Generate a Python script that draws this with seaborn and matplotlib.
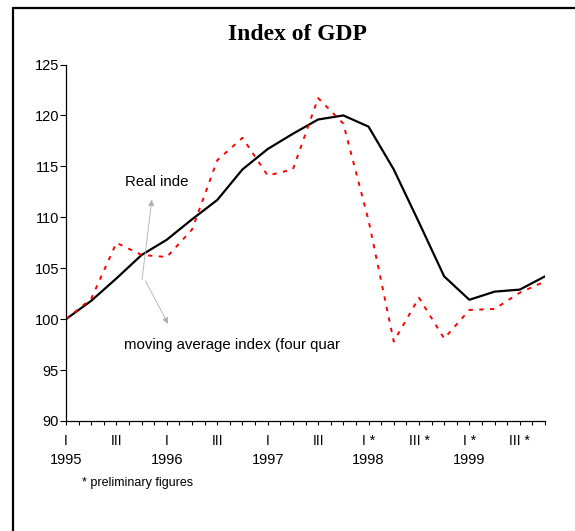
#!/usr/bin/env python3
# -*- coding: utf-8 -*-
"""
Index of GDP, quarterly 1995-1999
"""
import matplotlib
matplotlib.use('Agg')
import matplotlib.pyplot as plt
import seaborn as sns
import pandas as pd
import numpy as np

# quarters 1995 Q1 .. 1999 Q4
quarters = list(range(20))
quarter_labels = ['I', '', 'III', '',
                  'I', '', 'III', '',
                  'I', '', 'III', '',
                  'I *', '', 'III *', '',
                  'I *', '', 'III *', '']
years = ['1995', '1996', '1997', '1998', '1999']

moving_avg = [100.0, 101.8, 104.0, 106.3, 107.8, 109.8, 111.7, 114.7, 116.7, 118.2,
              119.6, 120.0, 118.9, 114.7, 109.5, 104.2, 101.9, 102.7, 102.9, 104.2]
real_index = [100.0, 102.0, 107.5, 106.3, 106.1, 108.8, 115.6, 117.8, 114.1, 114.7,
              121.7, 119.2, 109.7, 97.8, 102.1, 98.1, 100.9, 101.0, 102.6, 103.7]

df = pd.DataFrame({'q': quarters, 'moving': moving_avg, 'real': real_index})

sns.set_style("white")
plt.rcParams['font.family'] = ['Liberation Sans', 'DejaVu Sans']
plt.rcParams['text.color'] = 'black'
plt.rcParams['xtick.color'] = 'black'
plt.rcParams['ytick.color'] = 'black'

fig = plt.figure(figsize=(5.75, 5.31), dpi=100)
ax = fig.add_axes([66 / 575, 1 - 421 / 531, (545 - 66) / 575, (421 - 64.5) / 531])

sns.lineplot(data=df, x='q', y='moving', ax=ax, color='black', linewidth=1.6)
sns.lineplot(data=df, x='q', y='real', ax=ax, color='red', linewidth=1.4,
             linestyle=(0, (2.2, 3.3)))

ax.set_xlim(0, 19)
ax.set_ylim(90, 125)
ax.set_xlabel('')
ax.set_ylabel('')

# y axis
ax.set_yticks(np.arange(90, 126, 5))
ax.tick_params(axis='y', direction='out', length=4, width=0.8, labelsize=10.5,
               pad=1, left=True, colors='black')

# x axis: small ticks every half quarter, labels below
ax.set_xticks(np.arange(0, 19.01, 0.5))
ax.set_xticklabels([])
ax.tick_params(axis='x', direction='out', length=3, width=0.8, bottom=True)
for q, lab in zip(quarters, quarter_labels):
    if lab:
        ax.text(q, -0.055, lab, transform=ax.get_xaxis_transform(),
                ha='center', va='center', fontsize=10)
for i, yr in enumerate(years):
    ax.text(i * 4, -0.11, yr, transform=ax.get_xaxis_transform(),
            ha='center', va='center', fontsize=10.5)

for side in ['top', 'right']:
    ax.spines[side].set_visible(False)
for side in ['left', 'bottom']:
    ax.spines[side].set_color('black')
    ax.spines[side].set_linewidth(0.9)

# annotations
ax.annotate('', xy=(3.42, 112.0), xytext=(3.0, 103.6),
            arrowprops=dict(arrowstyle='-|>', color='#b0b0b0', lw=0.6,
                            mutation_scale=9))
ax.annotate('', xy=(4.1, 99.3), xytext=(3.1, 104.0),
            arrowprops=dict(arrowstyle='-|>', color='#b0b0b0', lw=0.6,
                            mutation_scale=9))
ax.text(2.35, 113.5, 'Real inde', ha='left', va='center', fontsize=10.8)
ax.text(2.3, 97.45, 'moving average index (four quar', ha='left', va='center',
        fontsize=10.8)

fig.text(297 / 575, 1 - 35 / 531, 'Index of GDP', ha='center', va='center',
         fontsize=17, fontweight='bold', family=['Liberation Serif', 'DejaVu Serif'])
fig.text(82 / 575, 1 - 483 / 531, '* preliminary figures', ha='left', va='center',
         fontsize=9)

# chart frame (left and top edges only)
fig.add_artist(plt.Line2D([13.5 / 575, 13.5 / 575], [0, 1 - 8 / 531],
                          transform=fig.transFigure, color='black', lw=1.6))
fig.add_artist(plt.Line2D([13.5 / 575, 1], [1 - 8 / 531, 1 - 8 / 531],
                          transform=fig.transFigure, color='black', lw=1.6))

fig.savefig('out.png', dpi=100)
